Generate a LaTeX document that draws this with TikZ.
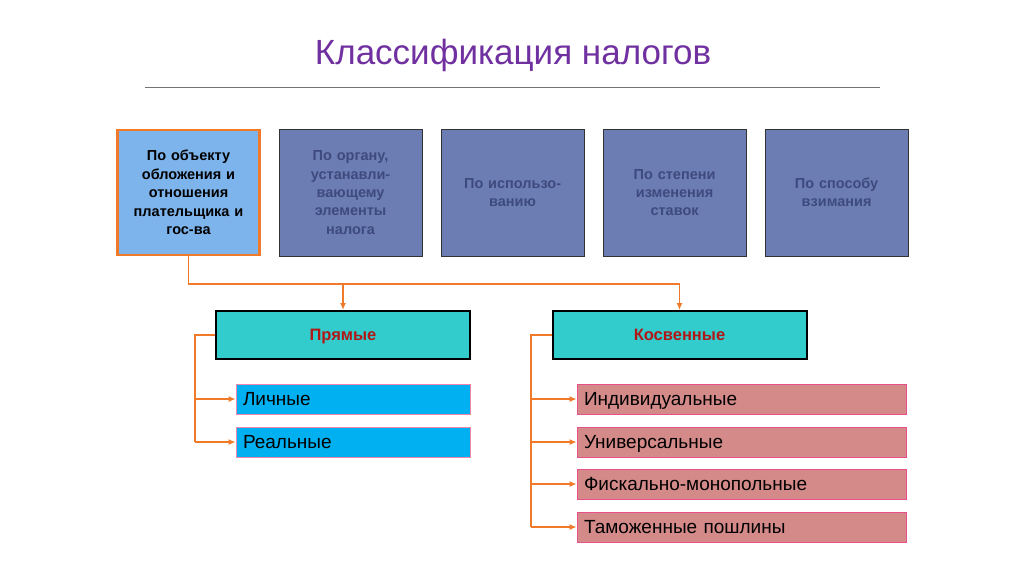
\documentclass[tikz,border=0pt]{standalone}
\usepackage{fontspec}
\setmainfont{Liberation Sans}
\usetikzlibrary{positioning, arrows.meta, calc}

\definecolor{titlepurple}{HTML}{7030A0}
\definecolor{selblue}{HTML}{7EB4EC}
\definecolor{boxorange}{HTML}{F07A2A}
\definecolor{darkbox}{HTML}{6B7DB3}
\definecolor{darktext}{HTML}{3E4A7E}
\definecolor{teal}{HTML}{33CCCC}
\definecolor{kindred}{HTML}{B01818}
\definecolor{skyblue}{HTML}{00B0F0}
\definecolor{rosebox}{HTML}{D48A88}
\definecolor{roseline}{HTML}{E8508A}

\begin{document}
\begin{tikzpicture}[x=1pt, y=-1pt, node distance={18pt}, thick]
                \tikzstyle{topsel} = [draw=boxorange, line width=2.5pt, fill=selblue, minimum width=141pt, minimum height=125pt, text width=135pt, align=center, font=\fontsize{14.5}{18.4}\selectfont\bfseries]
                \tikzstyle{topbox} = [draw=black!80, line width=1pt, fill=darkbox, minimum width=143pt, minimum height=127pt, text width=135pt, align=center, text=darktext, font=\fontsize{14.5}{18.4}\selectfont\bfseries]
                \tikzstyle{kind} = [draw=black, line width=2pt, fill=teal, minimum width=254pt, minimum height=48pt, text height=11.8pt, text depth=0pt, text=kindred, font=\fontsize{16.5}{18}\selectfont\bfseries]
                \tikzstyle{direct} = [draw=roseline!70, line width=0.8pt, fill=skyblue, minimum width=234pt, minimum height=30pt, text width=220pt, text height=13.6pt, text depth=0pt, align=left, font=\fontsize{19}{20}\selectfont]
                \tikzstyle{indirect} = [draw=roseline, line width=0.8pt, fill=rosebox, minimum width=329pt, minimum height=30pt, text width=315pt, text height=13.6pt, text depth=0pt, align=left, font=\fontsize{19}{20}\selectfont]
                \tikzstyle{link} = [draw=boxorange, line width=1.5pt]
                \tikzstyle{arrow} = [link, -{Latex[length=7pt, width=6pt]}]

                \useasboundingbox (0,0) rectangle (1024,574);

                % Title and rule
                \node[text=titlepurple, font=\fontsize{35}{38}\selectfont] (title) at (513,55) {Классификация налогов};
                \draw[black!55, line width=1pt] (145,87) -- (880,87);

                % Top row of criteria
                \node[topsel] (obj) at (188.5,192.5) {По объекту\\обложения и\\отношения\\плательщика и\\гос-ва};
                \node[topbox] (organ) [right=of obj] {По органу,\\устанавли-\\вающему\\элементы\\налога};
                \node[topbox] (use) [right=of organ] {По использо-\\ванию};
                \node[topbox] (rate) [right=of use] {По степени\\изменения\\ставок};
                \node[topbox] (levy) [right=of rate] {По способу\\взимания};

                % Direct and indirect taxes
                \node[kind] (direct) at (343,335) {Прямые};
                \node[kind] (indirect) at (679.5,335) {Косвенные};

                % Kinds of direct taxes
                \node[direct] (personal) at (353,399) {Личные};
                \node[direct] (real) at (353,442) {Реальные};

                % Kinds of indirect taxes
                \node[indirect] (indiv) at (741.5,399) {Индивидуальные};
                \node[indirect] (univ) at (741.5,442) {Универсальные};
                \node[indirect] (fiscal) at (741.5,484) {Фискально-монопольные};
                \node[indirect] (customs) at (741.5,527) {Таможенные пошлины};

                % Connectors
                \coordinate (bus) at (0,284);
                \coordinate (lrail) at (195,0);
                \coordinate (rrail) at (531,0);

                \draw[link] (obj.south) -- (obj.south |- bus) -- (indirect.north |- bus);
                \draw[arrow] (direct.north |- bus) -- (direct.north);
                \draw[arrow] (indirect.north |- bus) -- (indirect.north);

                \draw[link] (direct.west) -- (direct.west -| lrail) -- (lrail |- real.west);
                \draw[arrow] (lrail |- personal.west) -- (personal.west);
                \draw[arrow] (lrail |- real.west) -- (real.west);

                \draw[link] (indirect.west) -- (indirect.west -| rrail) -- (rrail |- customs.west);
                \draw[arrow] (rrail |- indiv.west) -- (indiv.west);
                \draw[arrow] (rrail |- univ.west) -- (univ.west);
                \draw[arrow] (rrail |- fiscal.west) -- (fiscal.west);
                \draw[arrow] (rrail |- customs.west) -- (customs.west);
\end{tikzpicture}
\end{document}
